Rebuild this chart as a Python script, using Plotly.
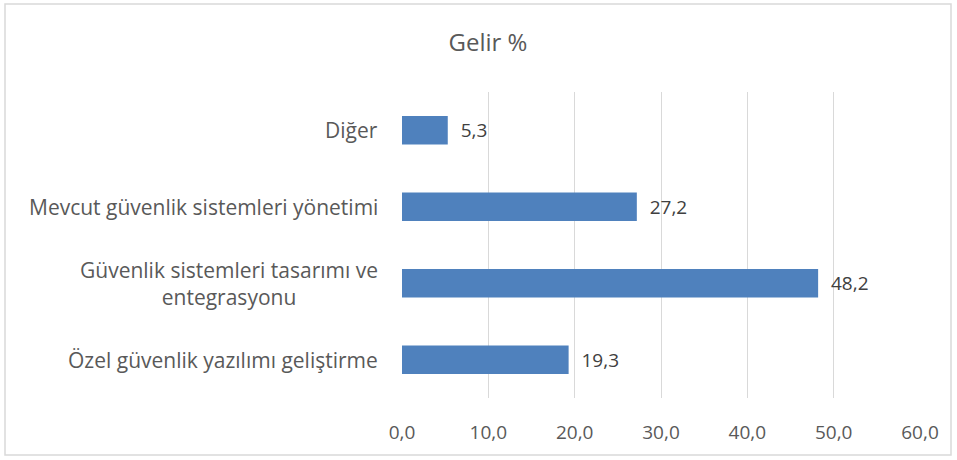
import plotly.graph_objects as go

categories = [
    "Özel güvenlik yazılımı geliştirme",
    "Güvenlik sistemleri tasarımı ve<br>entegrasyonu",
    "Mevcut güvenlik sistemleri yönetimi",
    "Diğer",
]
values = [19.3, 48.2, 27.2, 5.3]
tick_vals = [0, 10, 20, 30, 40, 50, 60]

font_family = "Open Sans, Arial, sans-serif"
text_grey = "#595959"

fig = go.Figure()
fig.add_trace(
    go.Bar(
        y=categories,
        x=values,
        orientation="h",
        width=0.37,
        marker=dict(color="#4F81BD", line=dict(width=0)),
        text=values,
        texttemplate="  %{x:.1f}",
        textposition="outside",
        textfont=dict(size=19, color="#404040", family=font_family),
        cliponaxis=False,
        hoverinfo="skip",
    )
)

# category labels as annotations so the wrapped label stays centred
for cat in categories:
    fig.add_annotation(
        x=0,
        xref="paper",
        y=cat,
        yref="y",
        text=cat,
        xanchor="right",
        xshift=-22,
        align="center",
        showarrow=False,
        font=dict(size=21, color=text_grey, family=font_family),
    )

fig.update_layout(
    width=957,
    height=460,
    separators=",.",
    paper_bgcolor="white",
    plot_bgcolor="white",
    margin=dict(l=402, r=37, t=92, b=62, autoexpand=False),
    font=dict(family=font_family, size=19, color=text_grey),
    title=dict(
        text="Gelir %",
        x=488 / 957,
        xanchor="center",
        y=1 - 43 / 460,
        yanchor="middle",
        font=dict(size=24, color=text_grey),
    ),
    showlegend=False,
    xaxis=dict(
        range=[0, 60],
        tickvals=tick_vals,
        tickformat=".1f",
        showgrid=True,
        gridcolor="#D9D9D9",
        gridwidth=1,
        zeroline=False,
        showline=False,
        ticks="",
        automargin=False,
        ticklabelstandoff=21,
    ),
    yaxis=dict(
        range=[-0.5, 3.5],
        showgrid=False,
        zeroline=False,
        showline=False,
        showticklabels=False,
        ticks="",
        automargin=False,
    ),
    shapes=[
        dict(
            type="rect",
            xref="paper",
            yref="paper",
            x0=(5 - 402) / 518,
            x1=(951 - 402) / 518,
            y0=(398 - 455) / 306,
            y1=(398 - 4) / 306,
            line=dict(color="#D9D9D9", width=1.5),
            fillcolor="rgba(0,0,0,0)",
            layer="below",
        )
    ],
)

fig.write_html(
    "out.html",
    config={"displayModeBar": False},
    post_script="document.body.style.margin = '0';",
)
